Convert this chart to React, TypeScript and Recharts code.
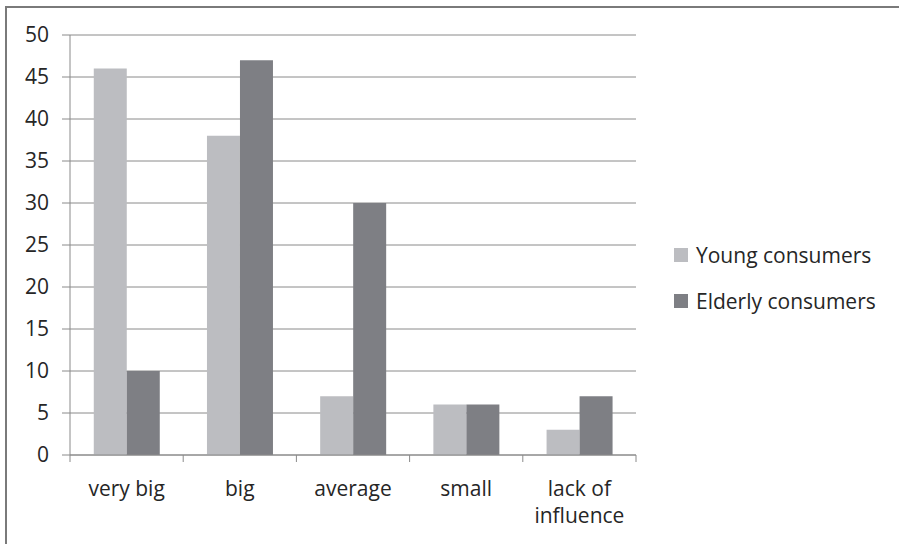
import React from 'react';
import { BarChart, Bar, XAxis, YAxis, CartesianGrid, Legend, Text } from 'recharts';

const categories = ['very big', 'big', 'average', 'small', 'lack of influence'];
const youngConsumers = [46, 38, 7, 6, 3];
const elderlyConsumers = [10, 47, 30, 6, 7];
const yTicks = [0, 5, 10, 15, 20, 25, 30, 35, 40, 45, 50];
const seriesNames = ['Young consumers', 'Elderly consumers'];

const data = categories.map((name, i) => ({
  name,
  young: youngConsumers[i],
  elderly: elderlyConsumers[i],
}));

const FONT = '"Open Sans", "Noto Sans", sans-serif';
const AXIS = '#8a8a8a';
const TEXT = '#262626';

// category labels plus the tick marks on the band edges
const CategoryTick = (props: any) => {
  const { x, y, payload, width, visibleTicksCount, index } = props;
  const band = width / (visibleTicksCount || categories.length);
  const left = x - band / 2;
  const right = x + band / 2;
  return (
    <g>
      {index === 0 && <line x1={left} x2={left} y1={y} y2={y + 7} stroke={AXIS} />}
      <line x1={right} x2={right} y1={y} y2={y + 7} stroke={AXIS} />
      <Text
        x={x}
        y={y + 26}
        width={95}
        textAnchor="middle"
        verticalAnchor="start"
        lineHeight={27}
        fill={TEXT}
        fontSize={21}
        fontFamily={FONT}
        style={{ fontSize: 21, fontFamily: FONT }}
      >
        {payload.value}
      </Text>
    </g>
  );
};

const LegendContent = (props: any) => {
  const items = [...(props.payload || [])].sort(
    (a: any, b: any) => seriesNames.indexOf(a.value) - seriesNames.indexOf(b.value)
  );
  return (
    <div style={{ fontFamily: FONT, fontSize: 21, color: TEXT }}>
      {items.map((item: any) => (
        <div key={item.value} style={{ display: 'flex', alignItems: 'center', height: 46 }}>
          <span style={{ width: 14, height: 14, background: item.color, marginRight: 8, display: 'inline-block' }} />
          <span>{item.value}</span>
        </div>
      ))}
    </div>
  );
};

export default function App() {
  return (
    <div style={{ position: 'absolute', left: 0, top: 0, width: 899, height: 544, background: '#fff', fontFamily: FONT }}>
      <div
        style={{
          position: 'absolute',
          left: 5,
          top: 6,
          width: 894,
          height: 538,
          borderLeft: '2px solid #7a7a7a',
          borderTop: '2px solid #7a7a7a',
          boxSizing: 'border-box',
        }}
      />
      <BarChart
        width={899}
        height={544}
        data={data}
        margin={{ top: 35, right: 263, left: 0, bottom: 59 }}
        barCategoryGap="21%"
        barGap={0}
      >
        <CartesianGrid horizontal vertical={false} stroke={AXIS} strokeWidth={1} />
        <XAxis
          dataKey="name"
          height={30}
          axisLine={{ stroke: AXIS }}
          tickLine={false}
          tickSize={0}
          tickMargin={0}
          interval={0}
          tick={<CategoryTick />}
        />
        <YAxis
          width={70}
          domain={[0, 50]}
          ticks={yTicks}
          interval={0}
          axisLine={{ stroke: AXIS }}
          tickLine={{ stroke: AXIS }}
          tickSize={8}
          tickMargin={13}
          tick={{ fill: TEXT, fontSize: 21, fontFamily: FONT }}
        />
        <Legend
          layout="vertical"
          align="center"
          verticalAlign="middle"
          wrapperStyle={{ left: 674, top: 232, width: 220 }}
          content={<LegendContent />}
        />
        <Bar dataKey="young" name={seriesNames[0]} fill="#bcbdc1" isAnimationActive={false} />
        <Bar dataKey="elderly" name={seriesNames[1]} fill="#7e7f84" isAnimationActive={false} />
      </BarChart>
    </div>
  );
}
